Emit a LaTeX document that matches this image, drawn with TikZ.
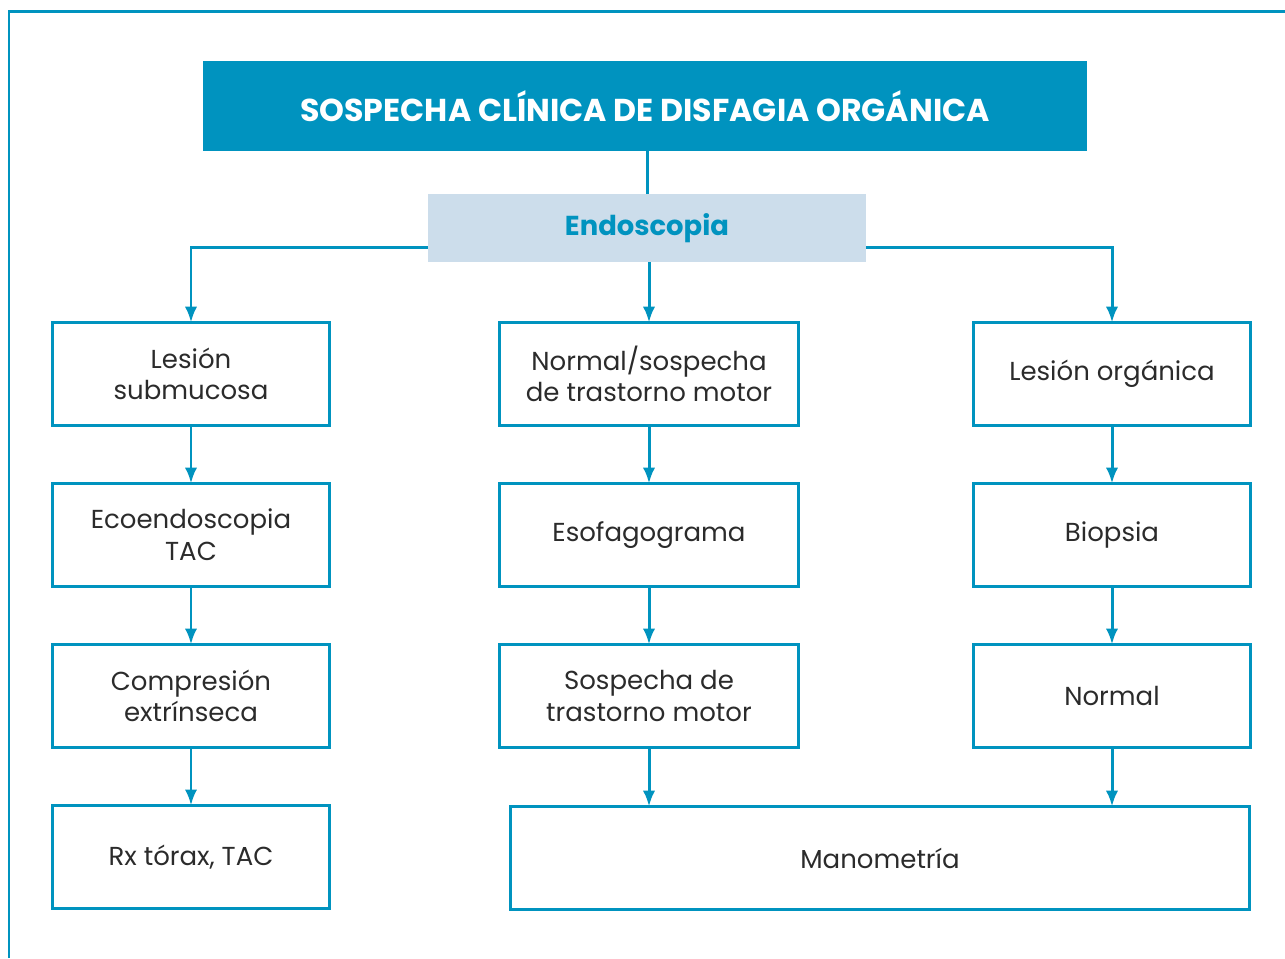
\documentclass[tikz,border=0pt]{standalone}
\usepackage{fontspec}
\setmainfont{Poppins}
\usetikzlibrary{arrows.meta, positioning}
\usepackage{xcolor}
\definecolor{azul}{HTML}{0093BF}
\definecolor{celeste}{HTML}{CCDDEB}
\definecolor{texto}{HTML}{2B2B2B}

\begin{document}
\begin{tikzpicture}[
x=0.02cm, y=-0.02cm,
node distance=1.16cm,
box/.style={draw=azul, line width=1.7pt, rectangle, inner sep=0pt, outer sep=0pt,
minimum width=5.54cm, minimum height=2.06cm, align=center,
text=texto, font=\fontsize{14.8}{18}\selectfont},
wide/.style={box, minimum width=6.0cm},
arrow/.style={-{Latex[length=9pt, width=7pt]}, draw=azul, line width=1.7pt},
line/.style={draw=azul, line width=1.7pt}
]

\useasboundingbox (0,0) rectangle (1285,958);
% marco
\draw[line] (9,958) -- (9,11) -- (1285,11);

\node[fill=azul, minimum width=17.68cm, minimum height=1.8cm, text=white,
font=\fontsize{18}{20}\selectfont\bfseries] (title) at (645,106) {SOSPECHA CLÍNICA DE DISFAGIA ORGÁNICA};
\node[fill=celeste, minimum width=8.76cm, minimum height=1.36cm, text=azul,
font=\fontsize{15.6}{18}\selectfont\bfseries] (endo) at (647,228) {Endoscopia};

% columna izquierda
\node[box] (sub) at (191,374) {Lesión\\submucosa};
\node[box, below=of sub] (eco) {Ecoendoscopia\\TAC};
\node[box, below=of eco] (comp) {Compresión\\extrínseca};
\node[box, below=of comp] (rx) {Rx tórax, TAC};

% columna central
\node[wide] (normal) at (649,374) {Normal/sospecha\\de trastorno motor};
\node[wide, below=of normal] (esof) {Esofagograma};
\node[wide, below=of esof] (sosp) {Sospecha de\\trastorno motor};

% columna derecha
\node[box] (org) at (1112,374) {Lesión orgánica};
\node[box, below=of org] (biop) {Biopsia};
\node[box, below=of biop] (norm) {Normal};

\node[box, minimum width=14.78cm] (mano) at (880,858) {Manometría};

\draw[line] (title.south -| endo.north) -- (endo.north);
\draw[arrow] (endo.south -| normal.north) -- (normal.north);
\draw[arrow] (endo.west |- 0,247) -| (sub.north);
\draw[arrow] (endo.east |- 0,247) -| (org.north);

\draw[arrow] (sub) -- (eco);
\draw[arrow] (eco) -- (comp);
\draw[arrow] (comp) -- (rx);
\draw[arrow] (normal) -- (esof);
\draw[arrow] (esof) -- (sosp);
\draw[arrow] (sosp.south) -- (sosp.south |- mano.north);
\draw[arrow] (org) -- (biop);
\draw[arrow] (biop) -- (norm);
\draw[arrow] (norm.south) -- (norm.south |- mano.north);

\end{tikzpicture}
\end{document}
